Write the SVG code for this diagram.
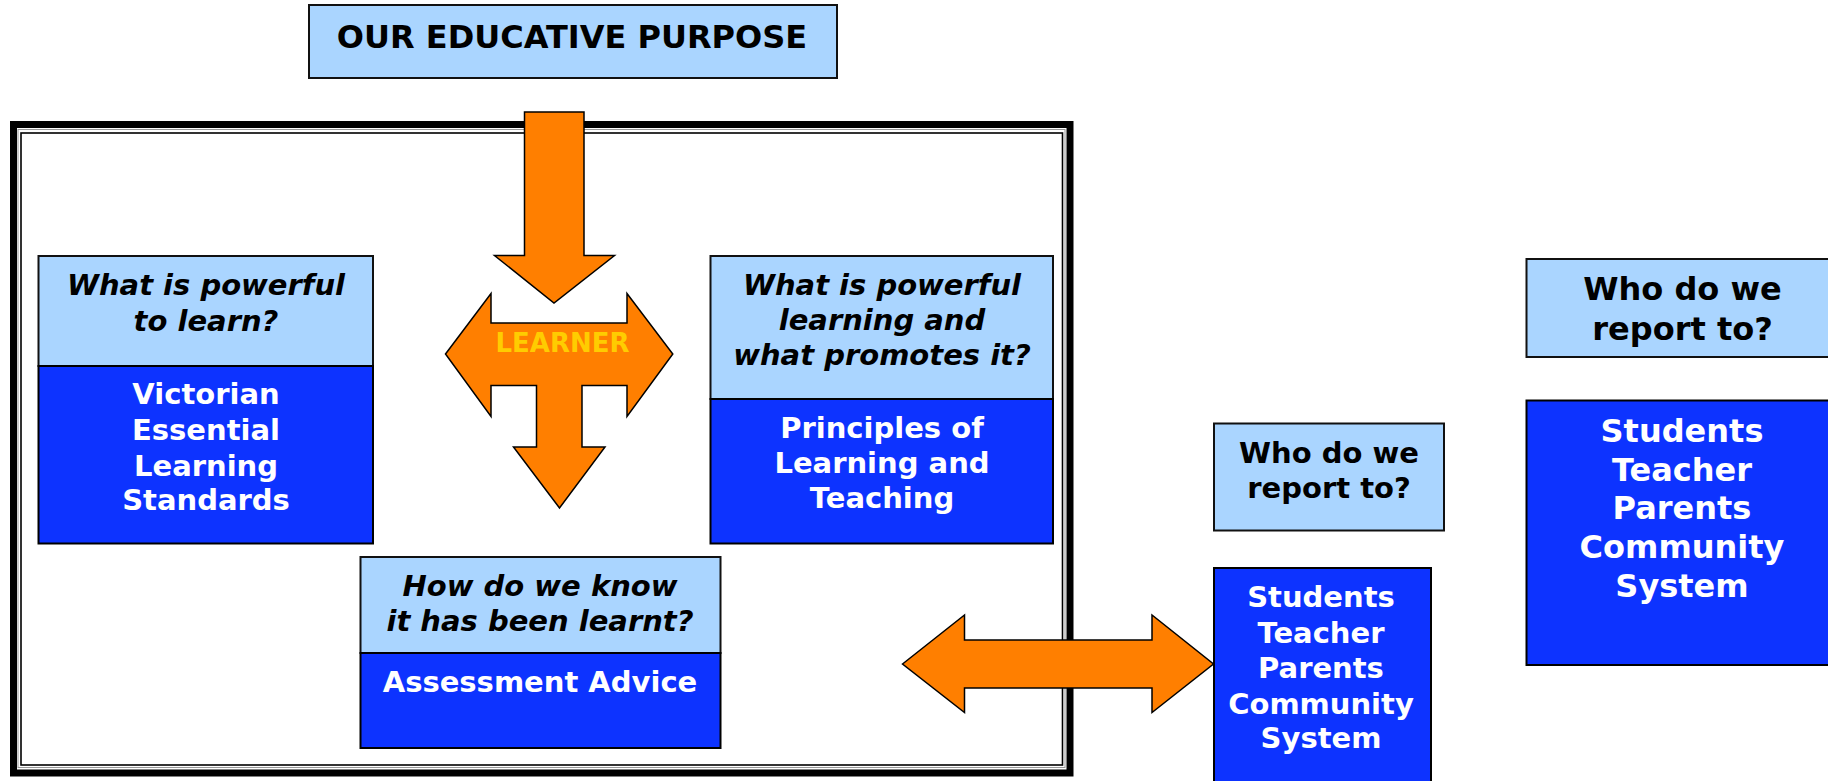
<svg xmlns="http://www.w3.org/2000/svg" width="1828" height="781" viewBox="0 0 1828 781">
<style>
.lt{fill:#AAD5FF;stroke:#111;stroke-width:2}
.dk{fill:#0D33FF;stroke:#000;stroke-width:2}
.arr{fill:#FF7F00;stroke:#000;stroke-width:1.5;stroke-linejoin:miter}
text{font-family:"DejaVu Sans","Liberation Sans",sans-serif;font-weight:bold;text-anchor:middle}
.q{font-size:29px;font-style:italic;fill:#000}
.w{font-size:29px;fill:#fff}
.b{font-size:29px;fill:#000}
.wl{font-size:32px;fill:#fff}
.bl{font-size:32px;fill:#000}
</style>
<rect width="1828" height="781" fill="#fff"/>
<g id="frame" fill="none">
<rect x="13.5" y="124.5" width="1056.5" height="648.5" stroke="#000" stroke-width="7"/>
<rect x="18" y="129.5" width="1047" height="638" stroke="#999" stroke-width="1"/>
<rect x="21" y="133" width="1041.5" height="632" stroke="#000" stroke-width="1.6"/>
</g>
<g id="title">
<rect class="lt" x="309" y="5" width="528" height="73"/>
<text x="572" y="48" style="font-size:32px">OUR EDUCATIVE PURPOSE</text>
</g>
<g id="connectors">
<polygon class="arr" points="524.5,112 584,112 584,255.5 614.5,255.5 554,303 494.5,255.5 524.5,255.5"/>
<polygon id="learner-arrow" class="arr" points="445.5,354 491,293.5 491,323 627,323 627,293.5 672.8,354 627,416.5 627,385.5 582,385.5 582,447 605,447 559.5,508 513.5,447 536.5,447 536.5,385.5 491,385.5 491,416.5"/>
<polygon class="arr" points="902.5,664 964.5,615 964.5,640 1152,640 1152,615 1213.5,664 1152,712.5 1152,688 964.5,688 964.5,712.5"/>
</g>
<g id="learner">
<text x="562.5" y="352" style="font-size:26px;fill:#FFCC00">LEARNER</text>
</g>
<g id="node-vels">
<rect class="lt" x="38.5" y="256" width="334.5" height="110"/>
<rect class="dk" x="38.5" y="366" width="334.5" height="177.5"/>
<text class="q" x="206" y="295">What is powerful</text>
<text class="q" x="206" y="331">to learn?</text>
<text class="w" x="206" y="404">Victorian</text>
<text class="w" x="206" y="440">Essential</text>
<text class="w" x="206" y="476">Learning</text>
<text class="w" x="206" y="510">Standards</text>
</g>
<g id="node-principles">
<rect class="lt" x="710.5" y="256" width="342.5" height="143"/>
<rect class="dk" x="710.5" y="399" width="342.5" height="144.5"/>
<text class="q" x="882" y="295">What is powerful</text>
<text class="q" x="882" y="330">learning and</text>
<text class="q" x="882" y="365">what promotes it?</text>
<text class="w" x="882" y="438">Principles of</text>
<text class="w" x="882" y="473">Learning and</text>
<text class="w" x="882" y="508">Teaching</text>
</g>
<g id="node-assessment">
<rect class="lt" x="360.5" y="557" width="360" height="96"/>
<rect class="dk" x="360.5" y="653" width="360" height="95"/>
<text class="q" x="540" y="596">How do we know</text>
<text class="q" x="540" y="631">it has been learnt?</text>
<text class="w" x="540" y="692">Assessment Advice</text>
</g>
<g id="node-report-small">
<rect class="lt" x="1214" y="423.5" width="230" height="107"/>
<text class="b" x="1329" y="463">Who do we</text>
<text class="b" x="1329" y="498">report to?</text>
</g>
<g id="node-audience-small">
<rect class="dk" x="1214" y="568" width="217" height="240"/>
<text class="w" x="1321" y="607">Students</text>
<text class="w" x="1321" y="643">Teacher</text>
<text class="w" x="1321" y="678">Parents</text>
<text class="w" x="1321" y="714">Community</text>
<text class="w" x="1321" y="748">System</text>
</g>
<g id="node-report-large">
<rect class="lt" x="1526.5" y="259" width="320" height="98"/>
<text class="bl" x="1682.5" y="300">Who do we</text>
<text class="bl" x="1682.5" y="340">report to?</text>
</g>
<g id="node-audience-large">
<rect class="dk" x="1526.5" y="400.5" width="320" height="264.5"/>
<text class="wl" x="1682" y="442">Students</text>
<text class="wl" x="1682" y="481">Teacher</text>
<text class="wl" x="1682" y="519">Parents</text>
<text class="wl" x="1682" y="558">Community</text>
<text class="wl" x="1682" y="597">System</text>
</g>
</svg>
